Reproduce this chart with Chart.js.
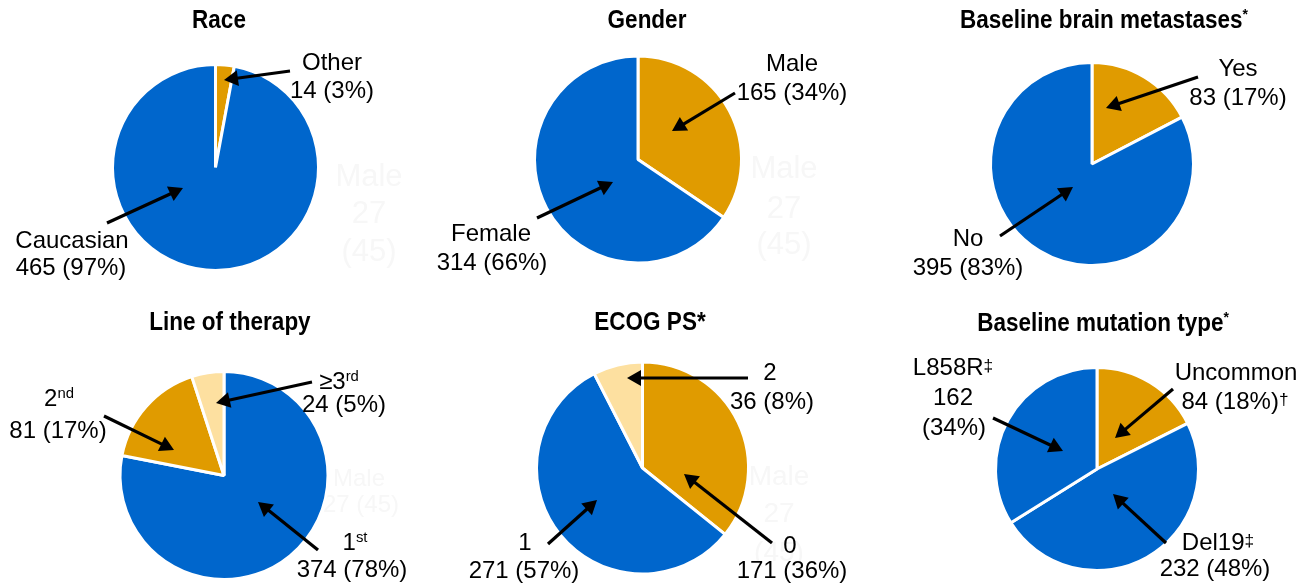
<!DOCTYPE html>
<html>
<head>
<meta charset="utf-8">
<title>Patient characteristics</title>
<script src="https://cdn.jsdelivr.net/npm/chart.js@4.4.1/dist/chart.umd.min.js"></script>
<style>
  html, body { margin: 0; padding: 0; background: #ffffff; }
  #board { position: relative; width: 1301px; height: 585px; overflow: hidden; background: #ffffff; }
  #board canvas { position: absolute; left: 0; top: 0; }
</style>
</head>
<body>
<div id="board"></div>
<script>
// ---- Data ------------------------------------------------------------
// A "^" marks the start of a superscript in a label.
const raceCategories = ['Other', 'Caucasian'];
const raceCounts = [14, 465];
const racePercents = [3, 97];

const genderCategories = ['Male', 'Female'];
const genderCounts = [165, 314];
const genderPercents = [34, 66];

const brainCategories = ['Yes', 'No'];
const brainCounts = [83, 395];
const brainPercents = [17, 83];

const lineCategories = ['1^st', '2^nd', '≥3^rd'];
const lineCounts = [374, 81, 24];
const linePercents = [78, 17, 5];

const ecogCategories = ['0', '1', '2'];
const ecogCounts = [171, 271, 36];
const ecogPercents = [36, 57, 8];

const mutationCategories = ['Uncommon', 'Del19^‡', 'L858R^‡'];
const mutationCounts = [84, 232, 162];
const mutationPercents = [18, 48, 34];
const mutationNotes = ['^†', '', ''];

const chartTitles = ['Race', 'Gender', 'Baseline brain metastases^*',
                     'Line of therapy', 'ECOG PS*', 'Baseline mutation type^*'];

// Faint leftover text that sits in some panels
const ghostLines = ['Male', '27', '(45)'];

// ---- Styles ----------------------------------------------------------
const BLUE = '#0066cc';
const ORANGE = '#e09b00';
const PALE = '#fde0a0';
const GHOST = '#f7f7f7';
const LABEL_FONT = '"Liberation Sans", Arial, Helvetica, sans-serif';
const W = 1301, H = 585;

// ---- Layout ----------------------------------------------------------
const panels = [
  {
    categories: raceCategories, counts: raceCounts, percents: racePercents,
    colors: [ORANGE, BLUE], title: chartTitles[0], titlePos: [219, 19],
    cx: 215.5, cy: 167.5, r: 101.5,
    ghost: { size: 31, lines: [[ghostLines[0], 369, 175], [ghostLines[1], 369, 212], [ghostLines[2], 369, 250]] },
    callouts: [
      { lines: [[332, 62], [332, 90]], tail: [290, 71], tip: [224, 80] },
      { lines: [[72, 240], [71, 267]], tail: [107, 223], tip: [183, 188] }
    ]
  },
  {
    categories: genderCategories, counts: genderCounts, percents: genderPercents,
    colors: [ORANGE, BLUE], title: chartTitles[1], titlePos: [647, 19],
    cx: 638, cy: 159.5, r: 102,
    ghost: { size: 31, lines: [[ghostLines[0], 784, 167], [ghostLines[1], 784, 207], [ghostLines[2], 784, 243]] },
    callouts: [
      { lines: [[792, 63], [792, 92]], tail: [735, 93], tip: [672, 131] },
      { lines: [[491, 233], [492, 262]], tail: [537, 218], tip: [613, 182] }
    ]
  },
  {
    categories: brainCategories, counts: brainCounts, percents: brainPercents,
    colors: [ORANGE, BLUE], title: chartTitles[2], titlePos: [1104, 19],
    cx: 1092, cy: 164, r: 100,
    ghost: null,
    callouts: [
      { lines: [[1238, 68], [1238, 97]], tail: [1198, 77], tip: [1106, 108] },
      { lines: [[968, 238], [968, 267]], tail: [1000, 236], tip: [1073, 187] }
    ]
  },
  {
    categories: lineCategories, counts: lineCounts, percents: linePercents,
    colors: [BLUE, ORANGE, PALE], title: chartTitles[3], titlePos: [230, 321],
    cx: 224, cy: 475.5, r: 102.5,
    ghost: { size: 24, lines: [[ghostLines[0], 359, 478], [ghostLines[1] + ' ' + ghostLines[2], 361, 504]] },
    callouts: [
      { lines: [[355, 542], [352, 569]], tail: [318, 550], tip: [258, 502] },
      { lines: [[59, 398], [58, 430]], tail: [104, 416], tip: [174, 450] },
      { lines: [[339, 381], [344, 404]], tail: [312, 382], tip: [216, 403] }
    ]
  },
  {
    categories: ecogCategories, counts: ecogCounts, percents: ecogPercents,
    colors: [ORANGE, BLUE, PALE], title: chartTitles[4], titlePos: [650, 321],
    cx: 642.5, cy: 468, r: 104.5,
    ghost: { size: 28, lines: [[ghostLines[0], 779, 475], [ghostLines[1], 779, 512], [ghostLines[2], 779, 551]] },
    callouts: [
      { lines: [[790, 545], [792, 570]], tail: [772, 543], tip: [684, 474] },
      { lines: [[525, 542], [524, 570]], tail: [548, 544], tip: [597, 500] },
      { lines: [[770, 372], [772, 401]], tail: [748, 378], tip: [627, 378] }
    ]
  },
  {
    categories: mutationCategories, counts: mutationCounts, percents: mutationPercents,
    notes: mutationNotes,
    colors: [ORANGE, BLUE, BLUE], title: chartTitles[5], titlePos: [1103, 322],
    cx: 1097, cy: 469, r: 100,
    ghost: null,
    callouts: [
      { lines: [[1236, 372], [1235, 401]], tail: [1173, 389], tip: [1115, 438] },
      { lines: [[1218, 542], [1215, 568]], tail: [1166, 543], tip: [1113, 494] },
      { lines: [[953, 367], [953, 397], [954, 427]], tail: [993, 418], tip: [1063, 451] }
    ]
  }
];

// ---- Drawing helpers -------------------------------------------------
// Draw a string centred on (x, y); text after "^" is set as a superscript.
// Dagger marks are kept larger and only slightly raised.
function drawRich(ctx, text, x, y, size, weight) {
  const parts = text.split('^');
  const runs = [{ t: parts[0], s: size, dy: 0 }];
  if (parts.length > 1 && parts[1]) {
    const dagger = /[†‡]/.test(parts[1]);
    runs.push(dagger
      ? { t: parts[1], s: size * 0.72, dy: -size * 0.2 }
      : { t: parts[1], s: size * 0.62, dy: -size * 0.36 });
  }
  let total = 0;
  runs.forEach(run => {
    ctx.font = `${weight} ${run.s}px ${LABEL_FONT}`;
    run.w = ctx.measureText(run.t).width;
    total += run.w;
  });
  let cur = x - total / 2;
  ctx.textAlign = 'left';
  ctx.textBaseline = 'alphabetic';
  runs.forEach(run => {
    ctx.font = `${weight} ${run.s}px ${LABEL_FONT}`;
    ctx.fillText(run.t, cur, y + size * 0.35 + run.dy);
    cur += run.w;
  });
}

function drawArrow(ctx, from, to) {
  const [x1, y1] = from, [x2, y2] = to;
  const ang = Math.atan2(y2 - y1, x2 - x1);
  const len = 14, half = 8;
  const bx = x2 - len * Math.cos(ang), by = y2 - len * Math.sin(ang);
  ctx.strokeStyle = '#000';
  ctx.fillStyle = '#000';
  ctx.lineWidth = 3.2;
  ctx.lineCap = 'butt';
  ctx.beginPath();
  ctx.moveTo(x1, y1);
  ctx.lineTo(bx + Math.cos(ang), by + Math.sin(ang));
  ctx.stroke();
  ctx.beginPath();
  ctx.moveTo(x2, y2);
  ctx.lineTo(bx + half * Math.sin(ang), by - half * Math.cos(ang));
  ctx.lineTo(bx - half * Math.sin(ang), by + half * Math.cos(ang));
  ctx.closePath();
  ctx.fill();
}

function calloutLines(panel, i) {
  const note = panel.notes ? panel.notes[i] : '';
  const count = panel.counts[i], pct = panel.percents[i] + '%';
  if (panel.callouts[i].lines.length === 3) {
    return [panel.categories[i], String(count), `(${pct})${note}`];
  }
  return [panel.categories[i], `${count} (${pct})${note}`];
}

function makePlugin(panel) {
  return {
    id: 'panelDecor',
    beforeDatasetsDraw(chart) {
      if (!panel.ghost) return;
      const ctx = chart.ctx;
      ctx.save();
      ctx.fillStyle = GHOST;
      panel.ghost.lines.forEach(([t, x, y]) => drawRich(ctx, t, x, y, panel.ghost.size, 'normal'));
      ctx.restore();
    },
    afterDatasetsDraw(chart) {
      const ctx = chart.ctx;
      ctx.save();
      // title, set in a condensed bold face
      ctx.fillStyle = '#000';
      ctx.translate(panel.titlePos[0], panel.titlePos[1]);
      ctx.scale(0.9, 1);
      drawRich(ctx, panel.title, 0, 0, 25, 'bold');
      ctx.restore();

      ctx.save();
      ctx.fillStyle = '#000';
      panel.callouts.forEach((c, i) => {
        const texts = calloutLines(panel, i);
        texts.forEach((t, k) => drawRich(ctx, t, c.lines[k][0], c.lines[k][1], 24, 'normal'));
        drawArrow(ctx, c.tail, c.tip);
      });
      ctx.restore();
    }
  };
}

// ---- Charts ----------------------------------------------------------
const board = document.getElementById('board');
panels.forEach(panel => {
  const canvas = document.createElement('canvas');
  canvas.width = W;
  canvas.height = H;
  canvas.style.width = W + 'px';
  canvas.style.height = H + 'px';
  board.appendChild(canvas);
  const border = 3;
  new Chart(canvas, {
    type: 'pie',
    data: {
      labels: panel.categories.map(c => c.replace('^', '')),
      datasets: [{
        data: panel.counts,
        backgroundColor: panel.colors,
        borderColor: '#ffffff',
        borderWidth: border
      }]
    },
    options: {
      responsive: false,
      animation: false,
      events: [],
      radius: panel.r + border / 2,
      layout: {
        padding: {
          left: panel.cx - panel.r,
          top: panel.cy - panel.r,
          right: W - panel.cx - panel.r,
          bottom: H - panel.cy - panel.r
        }
      },
      plugins: {
        legend: { display: false },
        tooltip: { enabled: false },
        title: { display: false }
      }
    },
    plugins: [makePlugin(panel)]
  });
});
</script>
</body>
</html>
